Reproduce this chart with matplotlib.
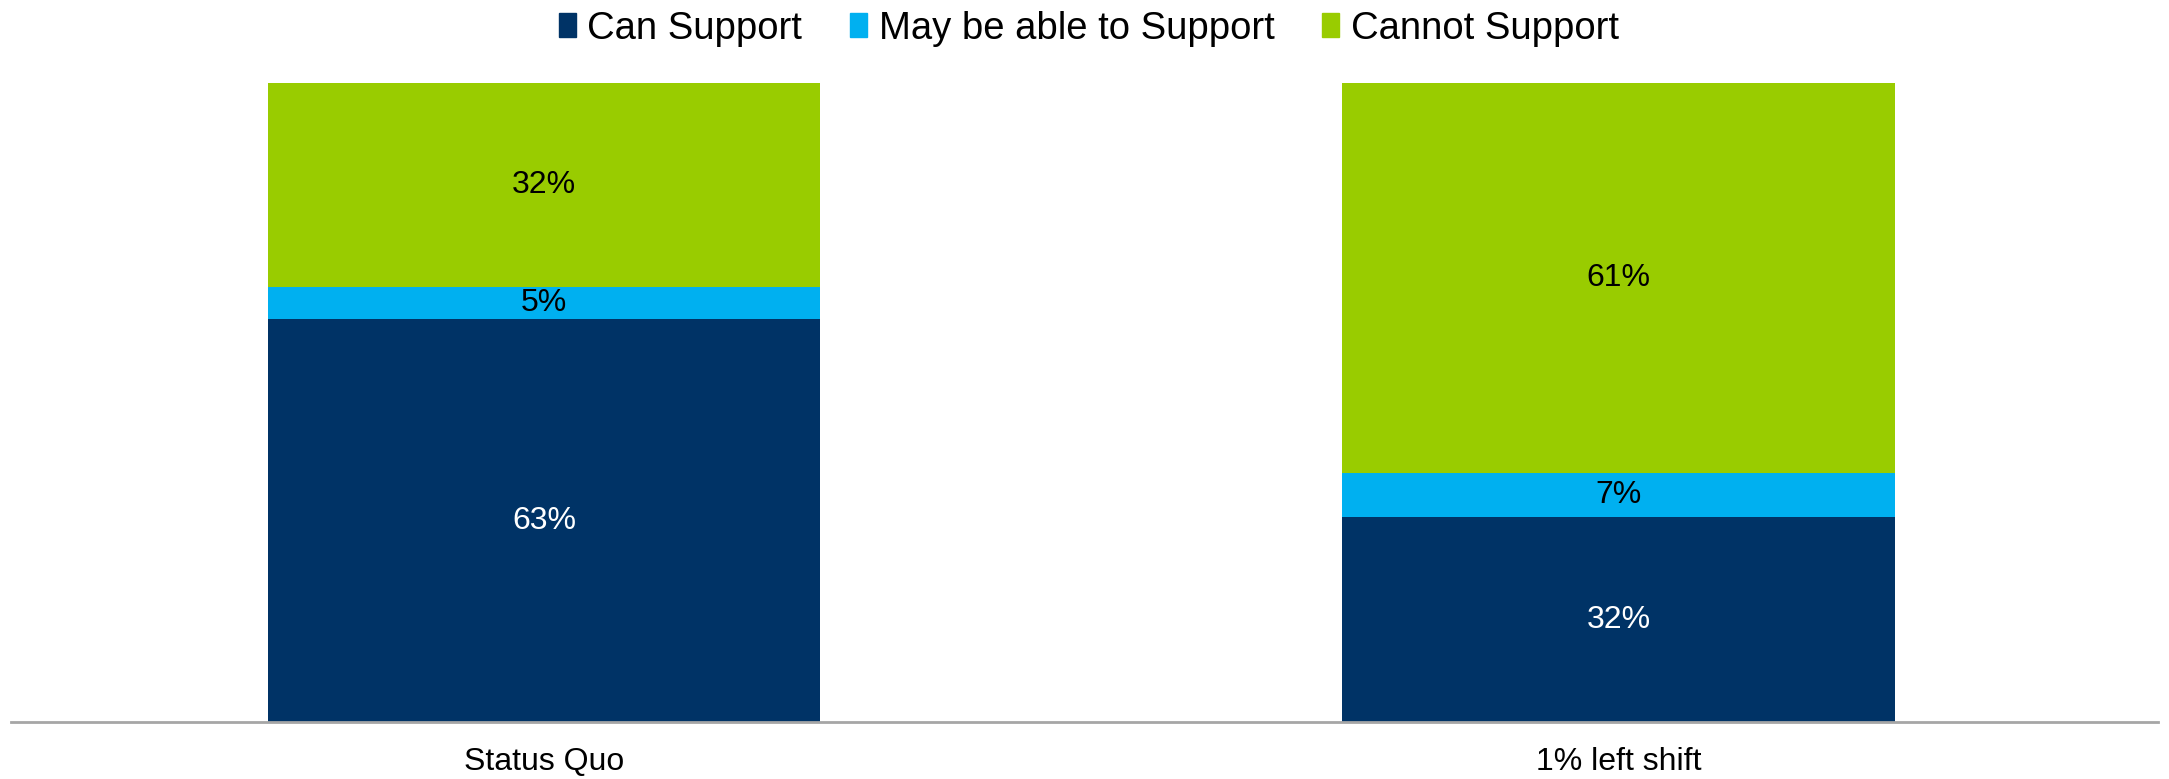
"""Stacked share chart: support capacity under status quo vs a 1% left shift."""

import matplotlib

matplotlib.use("Agg")
import matplotlib.pyplot as plt
from matplotlib.patches import Patch

plt.rcParams["font.family"] = ["Liberation Sans", "DejaVu Sans"]

SCENARIOS = ["Status Quo", "1% left shift"]
CAN_SUPPORT = [63, 32]
MAY_SUPPORT = [5, 7]
CANNOT_SUPPORT = [32, 61]

SERIES = [
    ("Can Support", CAN_SUPPORT, "#003366", "white"),
    ("May be able to Support", MAY_SUPPORT, "#00B0F0", "black"),
    ("Cannot Support", CANNOT_SUPPORT, "#99CC00", "black"),
]


def main():
    fig = plt.figure(figsize=(21.69, 7.79), dpi=100)
    ax = fig.add_axes([0.005, 0.0732, 0.99, 0.8203])

    x = range(len(SCENARIOS))
    bottoms = [0] * len(SCENARIOS)
    for label, values, color, text_color in SERIES:
        bars = ax.bar(x, values, bottom=bottoms, width=0.514, color=color,
                      label=label)
        ax.bar_label(bars, labels=[f"{v}%" for v in values],
                     label_type="center", color=text_color, fontsize=23)
        bottoms = [b + v for b, v in zip(bottoms, values)]

    ax.set_xlim(-0.496, 1.502)
    ax.set_ylim(0, 100)
    ax.set_xticks(list(x), SCENARIOS, fontsize=23)
    ax.tick_params(axis="x", length=0, pad=18)
    ax.set_yticks([])
    for side in ("top", "right", "left"):
        ax.spines[side].set_visible(False)
    ax.spines["bottom"].set_color("#a6a6a6")
    ax.spines["bottom"].set_linewidth(2)

    handles = [Patch(color=color, label=label) for label, _, color, _ in SERIES]
    fig.legend(handles=handles, loc="center", bbox_to_anchor=(0.502, 0.963),
               ncol=3, frameon=False, fontsize=27.5, handlelength=0.45,
               handleheight=0.6, handletextpad=0.3, columnspacing=1.25)

    fig.savefig("out.png", dpi=100)
    plt.close(fig)


if __name__ == "__main__":
    main()
